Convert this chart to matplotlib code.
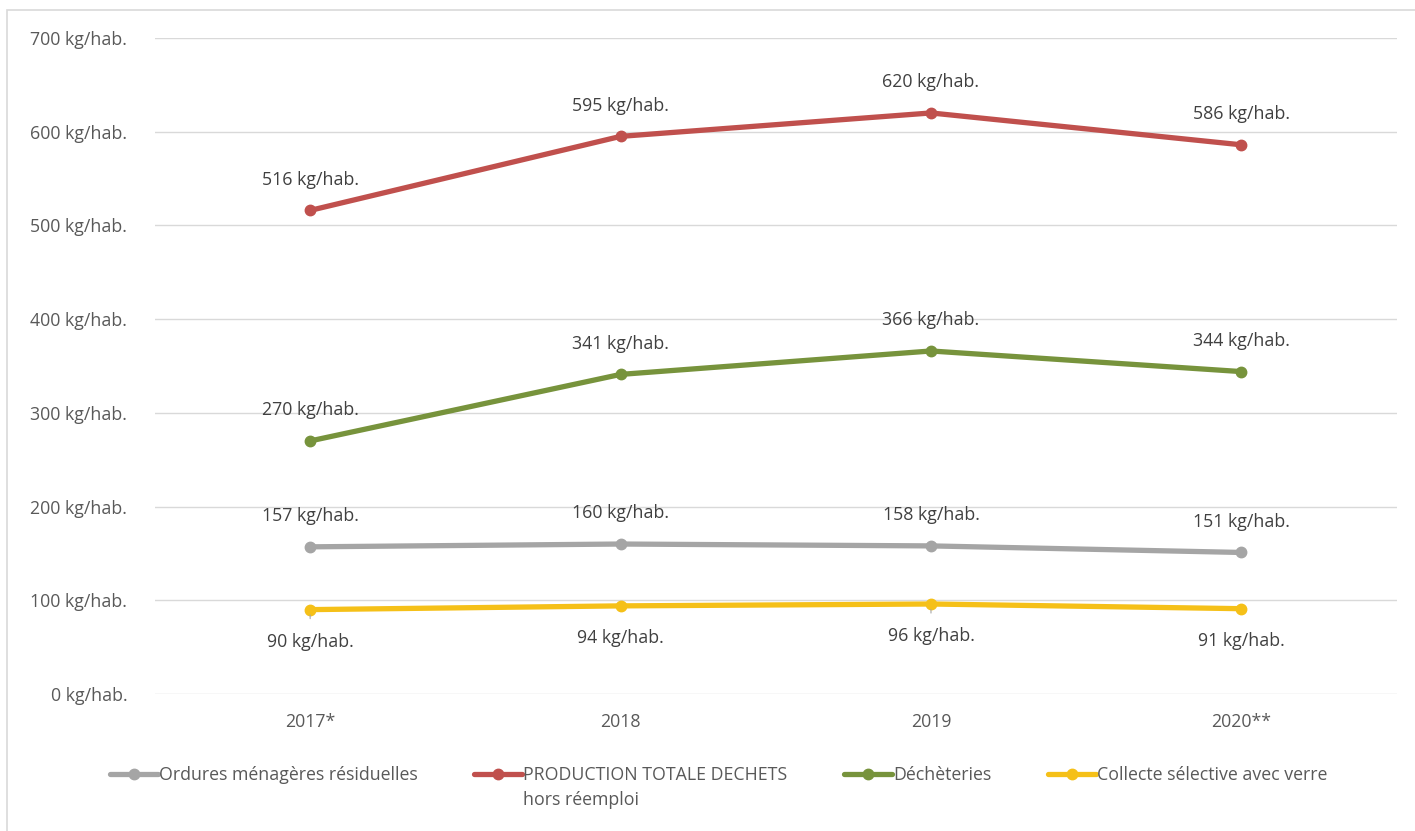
import matplotlib.pyplot as plt
from matplotlib.patches import Rectangle

annees = ['2017*', '2018', '2019', '2020**']
omr = [157, 160, 158, 151]
production_totale = [516, 595, 620, 586]
decheteries = [270, 341, 366, 344]
collecte_selective = [90, 94, 96, 91]

plt.rcParams['font.family'] = ['Open Sans', 'DejaVu Sans']
texte = '#595959'
taille = 12.8

fig = plt.figure(figsize=(14.15, 8.31), dpi=100)
ax = fig.add_axes([0.1095, 0.1649, 0.8775, 0.7894])

# cadre autour du graphique
fig.patches.append(Rectangle((0.005, -0.01), 1.2, 0.998, transform=fig.transFigure,
                             fill=False, edgecolor='#D9D9D9', linewidth=1.2))

x = range(len(annees))
series = [
    (omr, 'Ordures ménagères résiduelles', '#A5A5A5', 'above'),
    (production_totale, 'PRODUCTION TOTALE DECHETS', '#C0504D', 'above'),
    (decheteries, 'Déchèteries', '#77933C', 'above'),
    (collecte_selective, 'Collecte sélective avec verre', '#F5C018', 'below'),
]

for vals, nom, coul, pos in series:
    ax.plot(x, vals, color=coul, linewidth=3.8, marker='o', markersize=7.5,
            solid_capstyle='round', label=nom, zorder=3)
    for i, v in enumerate(vals):
        dy = 22 if pos == 'above' else -23
        # petits traits de rappel sous certaines étiquettes de la collecte sélective
        arrow = None
        if pos == 'below' and i in (0, 2):
            arrow = dict(arrowstyle='-', color='#A6A6A6', lw=0.8, shrinkA=8, shrinkB=4)
        ax.annotate(f'{v} kg/hab.', (i, v), xytext=(0, dy), textcoords='offset points',
                    ha='center', va='center', fontsize=taille, color='#404040',
                    arrowprops=arrow)

ax.set_xlim(-0.5, 3.5)
ax.set_ylim(0, 700)
ax.set_yticks(range(0, 701, 100))
ax.set_yticklabels([f'{v} kg/hab.' for v in range(0, 701, 100)])
ax.set_xticks(list(x))
ax.set_xticklabels(annees)
ax.tick_params(length=0, labelsize=taille, colors=texte)
ax.tick_params(axis='y', pad=20)
ax.tick_params(axis='x', pad=14)
ax.grid(axis='y', color='#D9D9D9', linewidth=1)
ax.set_axisbelow(True)
for s in ax.spines.values():
    s.set_visible(False)

leg = fig.legend(loc='center', bbox_to_anchor=(0.508, 0.067), ncol=4, frameon=False,
                 fontsize=taille, handlelength=2.7, handletextpad=0.05, columnspacing=3.2,
                 labelcolor=texte)

# deuxième ligne du libellé de la production totale
fig.canvas.draw()
bb = leg.get_texts()[1].get_window_extent().transformed(fig.transFigure.inverted())
fig.text(bb.x0, bb.y0 - 0.008, 'hors réemploi', ha='left', va='top', fontsize=taille, color=texte)

fig.savefig('out.png', dpi=100)
